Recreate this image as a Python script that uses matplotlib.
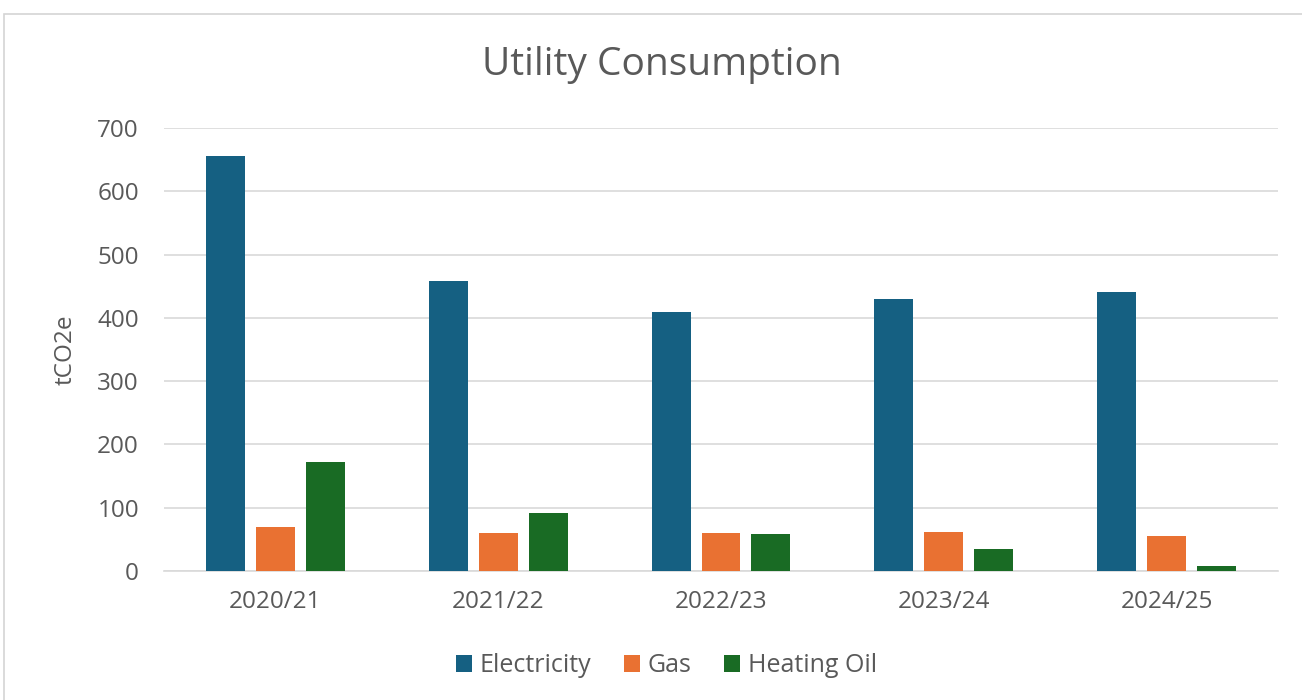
import numpy as np
import matplotlib.pyplot as plt
from matplotlib.patches import Rectangle

# tCO2e by year
years = ['2020/21', '2021/22', '2022/23', '2023/24', '2024/25']
electricity = [656, 459, 410, 430, 441]
gas = [69, 60, 60, 61, 55]
heating_oil = [172, 91, 58, 35, 8]

series = ['Electricity', 'Gas', 'Heating Oil']
colors = ['#156082', '#E97132', '#196B24']

plt.rcParams['font.family'] = ['Open Sans', 'DejaVu Sans']
text_col = '#595959'

fig = plt.figure(figsize=(13.02, 7), dpi=100)
ax = fig.add_axes([164 / 1302, 0.1843, 1114 / 1302, 0.6328])

# light frame around the chart area
fig.patches.append(Rectangle((4 / 1302, -0.1), 1.2, 1 - 14 / 700 + 0.1,
                             transform=fig.transFigure, fill=False,
                             edgecolor='#d4d4d4', linewidth=1.2))

x = np.arange(len(years))
w = 0.175
step = 0.224
for i, (vals, name) in enumerate(zip([electricity, gas, heating_oil], series)):
    ax.bar(x + (i - 1) * step, vals, width=w, color=colors[i], label=name, zorder=3)

ax.set_xlim(-0.5, len(years) - 0.5)
ax.set_ylim(0, 700)
ax.set_yticks(range(0, 701, 100))
ax.set_xticks(x)
ax.set_xticklabels(years)
ax.grid(axis='y', color='#d9d9d9', linewidth=1.2, zorder=0)
for s in ['top', 'right', 'left']:
    ax.spines[s].set_visible(False)
ax.spines['bottom'].set_color('#d9d9d9')
ax.spines['bottom'].set_linewidth(1.2)
ax.tick_params(length=0, colors=text_col, labelsize=17.5)
ax.tick_params(axis='x', pad=14)
ax.tick_params(axis='y', pad=18)

ax.set_ylabel('tCO2e', fontsize=17.5, color=text_col, labelpad=14)
fig.text(0.508, 0.907, 'Utility Consumption', ha='center', va='center',
         fontsize=28, color=text_col)

fig.legend(loc='center', bbox_to_anchor=(0.512, 0.049), ncol=3, frameon=False,
           fontsize=18, labelcolor=text_col, handlelength=0.65, handleheight=0.65,
           handletextpad=0.3, columnspacing=1.3)

fig.savefig('out.png', dpi=100)
